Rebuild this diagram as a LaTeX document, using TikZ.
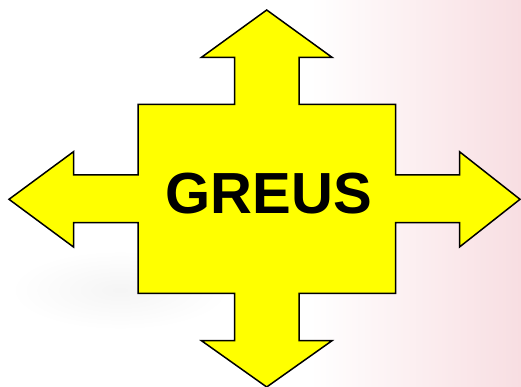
\documentclass[tikz,border=0pt]{standalone}
\usepackage{fontspec}
\setmainfont{Liberation Sans}
\definecolor{bgpink}{RGB}{248,222,226}
\definecolor{arrowyellow}{RGB}{255,255,0}
\tikzset{
  quadarrow/.style={fill=arrowyellow, draw=black, line width=1.5pt, line join=miter},
  bigtext/.style={font=\bfseries\fontsize{58}{58}\selectfont, inner sep=0pt, anchor=base}
}
\begin{document}
\begin{tikzpicture}[x=1pt, y=-1pt]
\useasboundingbox (0,0) rectangle (521,387);
\fill[white] (0,0) rectangle (521,387);
% faint background blurs
\shade[left color=white, right color=bgpink] (310,0) rectangle (521,387);
\shade[inner color=black!4, outer color=white] (120,290) ellipse (110 and 40);
% four-way arrow
\draw[quadarrow]
  (266.7,10) -- (332,57.3) -- (299,57.3) -- (299,104.3) -- (395.5,104.3)
  -- (395.5,175) -- (459.5,175) -- (459.5,151.7) -- (520,199.3)
  -- (459.5,247) -- (459.5,222.7) -- (395.5,222.7) -- (395.5,293.3)
  -- (299,293.3) -- (299,340.7) -- (332,340.7) -- (266.7,387)
  -- (201.5,340.7) -- (234.5,340.7) -- (234.5,293.3) -- (138,293.3)
  -- (138,222.7) -- (73.5,222.7) -- (73.5,247) -- (9,199.3)
  -- (73.5,151.7) -- (73.5,175) -- (138,175) -- (138,104.3)
  -- (234.5,104.3) -- (234.5,57.3) -- (201.5,57.3) -- cycle;
\node[bigtext] (label) at (269,213.3) {GREUS};
\end{tikzpicture}
\end{document}
